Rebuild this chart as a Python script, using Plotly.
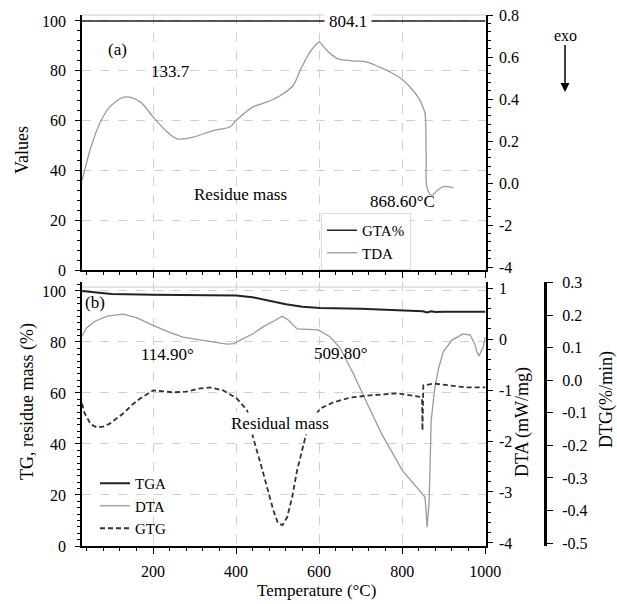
import plotly.graph_objects as go

# ---- data ----
# (a) top panel, "Values" scale
temp_a = [29, 40, 48, 72, 96, 133, 169, 200, 234, 258, 297, 345, 386, 400, 441, 475, 506,
          537, 554, 578, 595, 600, 620, 643, 680, 716, 745, 771, 800, 819, 840, 851, 855,
          858, 860, 871, 885, 899, 923]
tda = [36, 43, 48, 59, 65.5, 69.5, 67.5, 61.5, 55.5, 52.7, 53.4, 56, 57.5, 60, 65.5, 67.5, 70,
       74, 80, 87.5, 91, 91.5, 88, 85, 84, 83.5, 81.5, 79.5, 76.5, 73.5, 69, 65, 63,
       45, 33, 30, 32, 33.5, 33]
gta_temp = [29, 1000]
gta = [100, 100]
right_a_labels = ["-4", "-2", "0.0", "0.2", "0.4", "0.6", "0.8"]

# (b) bottom panel
temp_tga = [29, 60, 100, 200, 300, 400, 440, 480, 520, 560, 602, 700, 800, 850, 860, 870,
            880, 900, 1000]
tga = [100, 99.6, 98.8, 98.5, 98.3, 98.2, 97.5, 96.2, 94.8, 93.8, 93.3, 93, 92.5, 92, 91.6,
       92, 91.7, 91.8, 91.8]

temp_dta = [29, 40, 60, 90, 128, 160, 200, 240, 272, 330, 378, 395, 410, 440, 465, 490, 511,
            525, 547, 598, 627, 651, 682, 715, 750, 800, 830, 855, 858, 860, 863, 865, 870,
            878, 887, 899, 920, 947, 964, 975, 981, 985, 995, 1000]
dta = [0.06, 0.22, 0.35, 0.45, 0.49, 0.42, 0.27, 0.13, 0.04, -0.04, -0.1, -0.09, -0.02, 0.1,
       0.24, 0.35, 0.45, 0.38, 0.2, 0.18, 0.04, -0.18, -0.67, -1.25, -1.85, -2.57, -2.85,
       -3.1, -3.4, -3.69, -3.4, -3.2, -1.6, -1.0, -0.6, -0.25, -0.02, 0.1, 0.08, -0.1, -0.27,
       -0.33, -0.16, 0.04]

temp_dtg = [29, 35, 50, 65, 80, 96, 128, 150, 169, 200, 248, 280, 313, 337, 369, 402, 427,
            441, 460, 475, 490, 501, 512, 523, 535, 547, 560, 571, 585, 602, 634, 675, 716,
            788, 840, 848, 849, 850, 851, 853, 877, 916, 955, 1000]
dtg = [-0.071, -0.10, -0.135, -0.145, -0.142, -0.133, -0.102, -0.075, -0.056, -0.031, -0.037,
       -0.035, -0.025, -0.022, -0.031, -0.056, -0.093, -0.175, -0.26, -0.329, -0.40, -0.439,
       -0.445, -0.421, -0.36, -0.277, -0.21, -0.154, -0.12, -0.087, -0.068, -0.053, -0.047,
       -0.040, -0.05, -0.056, -0.154, -0.056, -0.016, -0.016, -0.01, -0.016, -0.022, -0.022]

dta_ticks = [1, 0, -1, -2, -3, -4]
dtg_ticks = [0.3, 0.2, 0.1, 0.0, -0.1, -0.2, -0.3, -0.4, -0.5]

W, H = 617, 604
FONT = "Liberation Serif"
GRAY = "#9a9a9a"
DARK = "#222222"
GRID = "#d0d0d0"
TICKFONT = dict(family=FONT, size=16, color="black")


def px(x):
    return x / W


def py(y):
    return 1 - y / H


fig = go.Figure()

# top panel
fig.add_trace(go.Scatter(x=gta_temp, y=gta, mode="lines", name="GTA%",
                         line=dict(color=DARK, width=1.5), xaxis="x", yaxis="y",
                         legend="legend"))
fig.add_trace(go.Scatter(x=temp_a, y=tda, mode="lines", name="TDA",
                         line=dict(color=GRAY, width=1.3, shape="spline"),
                         xaxis="x", yaxis="y", legend="legend"))
fig.add_trace(go.Scatter(x=[], y=[], xaxis="x", yaxis="y2", showlegend=False))

# bottom panel
fig.add_trace(go.Scatter(x=temp_tga, y=tga, mode="lines", name="TGA",
                         line=dict(color=DARK, width=2), xaxis="x2", yaxis="y3",
                         legend="legend2"))
fig.add_trace(go.Scatter(x=temp_dta, y=dta, mode="lines", name="DTA",
                         line=dict(color=GRAY, width=1.3), xaxis="x2", yaxis="y4",
                         legend="legend2"))
fig.add_trace(go.Scatter(x=temp_dtg, y=dtg, mode="lines", name="GTG",
                         line=dict(color="#333333", width=1.8, dash="5px,3px"),
                         xaxis="x2", yaxis="y5", legend="legend2"))

xdom = [px(82), px(486)]
top_dom = [py(270), py(15)]
bot_dom = [py(546), py(282)]

axis_common = dict(showline=True, linecolor="black", linewidth=1.5, ticks="outside",
                   tickcolor="black", tickfont=TICKFONT, zeroline=False, automargin=False)
minor_y = dict(ticks="outside", ticklen=3, tickcolor="black")

fig.update_layout(
    template="none",
    width=W, height=H, autosize=False,
    margin=dict(l=0, r=0, t=0, b=0, pad=0),
    paper_bgcolor="white", plot_bgcolor="rgba(0,0,0,0)",
    font=dict(family=FONT, size=16, color="black"),
    xaxis=dict(domain=xdom, anchor="y", range=[29, 1002], dtick=200, showticklabels=False,
               showgrid=True, gridcolor=GRID, griddash="dash", ticklen=6,
               minor=dict(dtick=40, **minor_y), **axis_common),
    yaxis=dict(domain=top_dom, anchor="x", range=[0, 102.4], dtick=20, showgrid=True,
               gridcolor=GRID, griddash="dash", ticklen=5, ticklabelstandoff=6,
               minor=dict(dtick=4, **minor_y), **axis_common),
    yaxis2=dict(overlaying="y", anchor="x", side="right", range=[-0.07, 6.0],
                tickvals=list(range(len(right_a_labels))), ticktext=right_a_labels,
                showgrid=False, ticklen=5, ticklabelstandoff=3,
                minor=dict(dtick=0.2, **minor_y), **axis_common),
    xaxis2=dict(domain=xdom, anchor="y3", range=[29, 1002], dtick=200, showgrid=True,
                gridcolor=GRID, griddash="dash", ticklen=6, ticklabelstandoff=4,
                minor=dict(dtick=40, **minor_y), **axis_common),
    yaxis3=dict(domain=bot_dom, anchor="x2", range=[0, 103.5], dtick=20, showgrid=True,
                gridcolor=GRID, griddash="dash", ticklen=5, ticklabelstandoff=6,
                minor=dict(dtick=2.5, **minor_y), **axis_common),
    yaxis4=dict(overlaying="y3", anchor="x2", side="right", range=[-4.06, 1.12],
                tickvals=dta_ticks, ticktext=[str(v) for v in dta_ticks], showgrid=False,
                ticklen=5, ticklabelstandoff=3, minor=dict(dtick=0.2, **minor_y),
                **axis_common),
    yaxis5=dict(overlaying="y3", anchor="free", position=px(545), side="right",
                range=[-0.509, 0.302], tickvals=dtg_ticks,
                ticktext=[f"{v:.1f}" for v in dtg_ticks], showgrid=False, ticklen=6,
                ticklabelstandoff=6, showline=True, linecolor="black", linewidth=3,
                ticks="outside", tickcolor="black", tickfont=TICKFONT, zeroline=False,
                automargin=False),
    legend=dict(x=px(321), y=py(213), xanchor="left", yanchor="top",
                bgcolor="white", bordercolor="#dddddd", borderwidth=1,
                font=dict(family=FONT, size=15), tracegroupgap=0, itemwidth=30,
                entrywidth=110),
    legend2=dict(x=px(95), y=py(467), xanchor="left", yanchor="top",
                 bgcolor="rgba(255,255,255,0)", font=dict(family=FONT, size=15),
                 tracegroupgap=0, itemwidth=30),
    showlegend=True,
)

# light top border of both panels
for yy in (15, 287):
    fig.add_shape(type="line", xref="paper", yref="paper", x0=xdom[0], x1=xdom[1],
                  y0=py(yy), y1=py(yy), line=dict(color="#cccccc", width=1))


def note(text, x, y, size=17, **kw):
    fig.add_annotation(text=text, x=px(x), y=py(y), xref="paper", yref="paper",
                       xanchor="center", yanchor="middle", showarrow=False,
                       font=dict(family=FONT, size=size, color="black"), **kw)


note("(a)", 117, 50)
note("133.7", 170, 72)
note("804.1", 348, 21, bgcolor="white", borderpad=4)
note("Residue mass", 240, 195)
note("868.60°C", 402, 201)
note("(b)", 95, 302)
note("114.90°", 167, 355)
note("509.80°", 341, 353)
note("Residual mass", 280, 423, bgcolor="white", borderpad=1)
note("Values", 22, 150, size=18, textangle=-90)
note("TG, residue mass (%)", 27, 402, size=18, textangle=-90)
note("DTA (mW/mg)", 522, 422, size=18, textangle=-90)
note("DTG(%/min)", 606, 400, size=18, textangle=-90)
note("Temperature (°C)", 316, 590)

# exo arrow
fig.add_annotation(text="exo", x=px(565), y=py(92), xref="paper", yref="paper",
                   ax=0, ay=-57, showarrow=True, arrowhead=2, arrowsize=1.2,
                   arrowwidth=1.5, arrowcolor="black", standoff=0,
                   font=dict(family=FONT, size=16, color="black"))

# the page body has a default 8px margin; drop it so the figure sits at the origin
fig.write_html("out.html", config={"displayModeBar": False},
               post_script="document.body.style.margin='0';")
